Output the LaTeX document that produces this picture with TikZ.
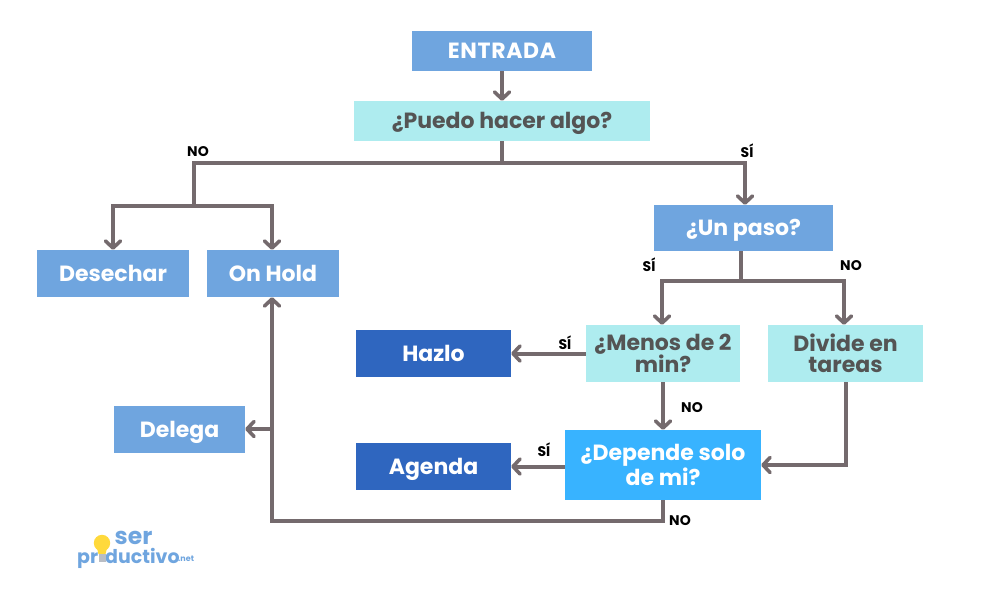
\documentclass[tikz,border=0pt]{standalone}
\usepackage{fontspec}
\setmainfont{Poppins}
\usetikzlibrary{arrows.meta}
\definecolor{midblue}{HTML}{6FA5DF}
\definecolor{aqua}{HTML}{AEECEF}
\definecolor{darkblue}{HTML}{2F66BF}
\definecolor{brightblue}{HTML}{38B3FF}
\definecolor{wire}{HTML}{746A6D}
\definecolor{ink}{HTML}{545454}
\definecolor{bulb}{HTML}{FFD93B}
\definecolor{bulbbase}{HTML}{B9BDC4}
\tikzset{
  x=1pt,y=-1pt,
  boxbase/.style={anchor=center,inner sep=0pt,align=center,font=\fontsize{22}{21}\selectfont\bfseries},
  oneline/.style={text height=17pt,text depth=2pt},
  lightbox/.style={boxbase,fill=midblue,text=white},
  aquabox/.style={boxbase,fill=aqua,text=ink},
  deepbox/.style={boxbase,fill=darkblue,text=white},
  brightbox/.style={boxbase,fill=brightblue,text=white},
  wireline/.style={draw=wire,line width=4pt,line cap=butt,line join=miter},
  arrowline/.style={wireline,-{Straight Barb[length=7pt,width=15pt,round,line width=3.6pt]}},
  tag/.style={inner sep=0pt,text=black,font=\fontsize{14}{14}\selectfont\bfseries},
  logotext/.style={inner sep=0pt,text=midblue,anchor=base west,font=\bfseries}
}
\newcommand{\bx}[7]{\node[#1,minimum width=#5pt-#3pt,minimum height=#6pt-#4pt] (#2) at ({(#3+#5)/2},{(#4+#6)/2}) {#7};}
\begin{document}
\begin{tikzpicture}
\useasboundingbox (0,0) rectangle (1000,600);
\fill[white] (0,0) rectangle (1000,600);
\bx{lightbox,oneline}{entrada}{412}{31}{592}{71}{\addfontfeature{LetterSpace=3}ENTRADA}
\bx{aquabox,oneline}{puedo}{354}{101}{650}{141}{¿Puedo hacer algo?}
\bx{lightbox,oneline}{paso}{654}{205}{833}{251}{¿Un paso?}
\bx{lightbox,oneline}{desechar}{37}{250}{189}{297}{Desechar}
\bx{lightbox,oneline}{hold}{207}{250}{339}{297}{On Hold}
\bx{aquabox}{menos}{586}{325}{740}{382}{¿Menos de 2\\min?}
\bx{aquabox}{divide}{768}{325}{923}{382}{Divide en\\tareas}
\bx{deepbox,oneline}{hazlo}{356}{330}{511}{377}{Hazlo}
\bx{deepbox,oneline}{agenda}{356}{443}{511}{490}{Agenda}
\bx{brightbox}{depende}{565}{430}{761}{500}{¿Depende solo\\de mi?}
\bx{lightbox,oneline}{delega}{114}{406}{245}{453}{Delega}
% junctions
\coordinate (j1) at (502,162.5);
\coordinate (jl) at (194,162.5);
\coordinate (jr) at (745,162.5);
\coordinate (j2) at (194,206);
\coordinate (j2l) at (113,206);
\coordinate (j2r) at (272,206);
\coordinate (j3) at (741,281);
\coordinate (j3l) at (662,281);
\coordinate (j3r) at (844,281);
\coordinate (j4) at (845.5,465);
\coordinate (j5) at (663,520.5);
\coordinate (j6) at (272,520.5);
\coordinate (j7) at (272,429);
\draw[arrowline] (entrada.south -| j1) -- (puedo.north -| j1);
\draw[wireline] (puedo.south -| j1) -- (j1);
\draw[wireline,line cap=rect] (jl) -- (jr);
\draw[arrowline] (jr) -- (paso.north -| jr);
\draw[wireline] (jl) -- (j2);
\draw[wireline,line cap=rect] (j2l) -- (j2r);
\draw[arrowline] (j2l) -- (desechar.north -| j2l);
\draw[arrowline] (j2r) -- (hold.north -| j2r);
\draw[wireline] (paso.south -| j3) -- (j3);
\draw[wireline,line cap=rect] (j3l) -- (j3r);
\draw[arrowline] (j3l) -- (menos.north -| j3l);
\draw[arrowline] (j3r) -- (divide.north -| j3r);
\draw[arrowline] (menos.west) -- (hazlo.east);
\draw[arrowline] (menos.south -| j5) -- (depende.north -| j5);
\draw[arrowline] (depende.west |- agenda) -- (agenda.east);
\draw[arrowline] (divide.south -| j4) -- (j4) -- (depende.east |- j4);
\draw[arrowline] (depende.south -| j5) -- (j5) -- (j6) -- (hold.south -| j6);
\draw[arrowline] (j7) -- (delega.east |- j7);
% labels
\node[tag] (t1) at (198,151.7) {NO};
\node[tag] (t2) at (747,150.7) {SÍ};
\node[tag] (t3) at (649,264.7) {SÍ};
\node[tag] (t4) at (851,265.7) {NO};
\node[tag] (t5) at (565,342.7) {SÍ};
\node[tag] (t6) at (692,407.7) {NO};
\node[tag] (t7) at (544,449.7) {SÍ};
\node[tag] (t8) at (680,520.7) {NO};
% logo
\node[logotext,font=\fontsize{23.5}{23.5}\selectfont\bfseries] (lg1) at (114.5,544) {ser};
\node[logotext,font=\fontsize{19}{19}\selectfont\bfseries] (lg2) at (77,563) {pr};
\node[logotext,font=\fontsize{19}{19}\selectfont\bfseries] (lg3) at (105,563) {ductivo};
\node[logotext,font=\fontsize{8}{8}\selectfont\bfseries] (lg4) at (178,561) {.net};
\fill[bulb] (102,543) circle (8.2);
\fill[bulb] (97,548) -- (107,548) -- (105.5,554) -- (98.5,554) -- cycle;
\fill[bulbbase] (98.5,554) rectangle (105.5,562);
\end{tikzpicture}
\end{document}
